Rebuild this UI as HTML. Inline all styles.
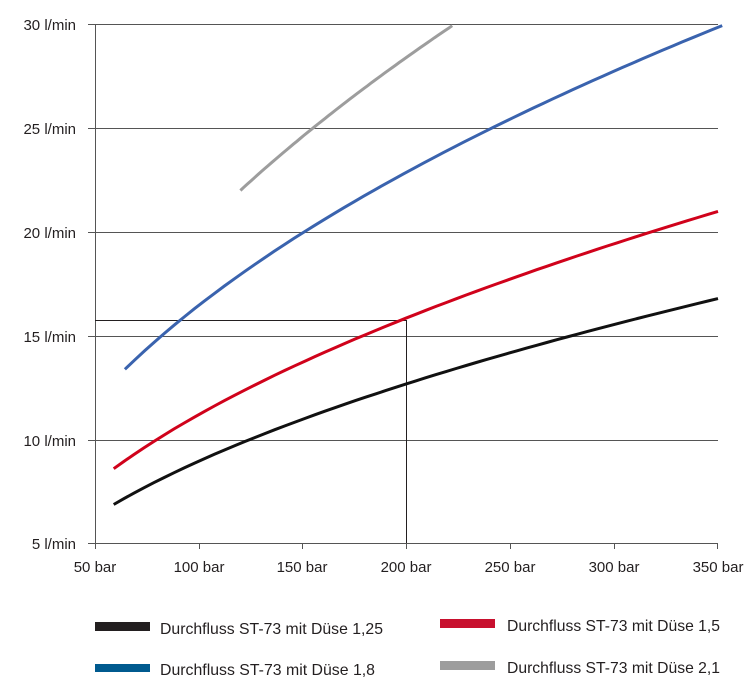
<!DOCTYPE html>
<html><head><meta charset="utf-8"><style>body{margin:0;background:#fff}svg{display:block}</style></head>
<body>
<svg id="s" width="750" height="688" viewBox="0 0 750 688" xmlns="http://www.w3.org/2000/svg" font-family="Liberation Sans, sans-serif" fill="#231f20">
<g stroke="#555" stroke-width="1">
<line x1="88" y1="24.5" x2="718" y2="24.5"/>
<line x1="88" y1="128.5" x2="718" y2="128.5"/>
<line x1="88" y1="232.5" x2="718" y2="232.5"/>
<line x1="88" y1="336.5" x2="718" y2="336.5"/>
<line x1="88" y1="440.5" x2="718" y2="440.5"/>
<line x1="88" y1="543.5" x2="718" y2="543.5"/>
<line x1="95.5" y1="24" x2="95.5" y2="549"/>
<line x1="199.5" y1="543" x2="199.5" y2="549"/>
<line x1="302.5" y1="543" x2="302.5" y2="549"/>
<line x1="406.5" y1="543" x2="406.5" y2="549"/>
<line x1="510.5" y1="543" x2="510.5" y2="549"/>
<line x1="614.5" y1="543" x2="614.5" y2="549"/>
<line x1="717.5" y1="543" x2="717.5" y2="549"/>
</g>
<g stroke="#231f20" stroke-width="1"><line x1="95" y1="320.5" x2="406" y2="320.5"/><line x1="406.5" y1="320" x2="406.5" y2="543"/></g>
<g font-size="15" text-anchor="end">
<text x="76" y="30">30 l/min</text><text x="76" y="134">25 l/min</text><text x="76" y="238">20 l/min</text>
<text x="76" y="342">15 l/min</text><text x="76" y="446">10 l/min</text><text x="76" y="549">5 l/min</text>
</g>
<g font-size="15" text-anchor="middle">
<text x="95" y="572">50 bar</text><text x="199" y="572">100 bar</text><text x="302" y="572">150 bar</text>
<text x="406" y="572">200 bar</text><text x="510" y="572">250 bar</text><text x="614" y="572">300 bar</text><text x="718" y="572">350 bar</text>
</g>
<g fill="none" stroke-width="3">
<path id="c1" stroke="#111"/>
<path id="c2" stroke="#d0021b"/>
<path id="c3" stroke="#3a63ae"/>
<path id="c4" stroke="#9d9d9d"/>
</g>
<rect x="95" y="622" width="55" height="9" fill="#231f20"/>
<rect x="440" y="619" width="55" height="9" fill="#c8102e"/>
<rect x="95" y="664" width="55" height="8" fill="#005a8f"/>
<rect x="440" y="661" width="55" height="9" fill="#9d9d9d"/>
<g font-size="16">
<text x="160" y="634" textLength="223" lengthAdjust="spacingAndGlyphs">Durchfluss ST-73 mit Düse 1,25</text>
<text x="507" y="631" textLength="213" lengthAdjust="spacingAndGlyphs">Durchfluss ST-73 mit Düse 1,5</text>
<text x="160" y="675" textLength="215" lengthAdjust="spacingAndGlyphs">Durchfluss ST-73 mit Düse 1,8</text>
<text x="507" y="673" textLength="213" lengthAdjust="spacingAndGlyphs">Durchfluss ST-73 mit Düse 2,1</text>
</g>
</svg>
<script>
function X(p){return 95+(p-50)*623/300}
function Y(q){return 544-(q-5)*20.8}
function mk(id,k,p0,p1,b){b=b||0;var d='';for(var i=0;i<=60;i++){var p=p0+(p1-p0)*i/60;var q=k*Math.sqrt(p)+b*(1-(p-p0)/(p1-p0));d+=(i?'L':'M')+X(p).toFixed(1)+','+Y(q).toFixed(1)}document.getElementById(id).setAttribute('d',d)}
mk('c1',0.898,59,350);
mk('c2',1.122,59,350);
mk('c3',1.595,64.4,352,0.6);
mk('c4',2.008,120,222);
</script>
</body></html>
